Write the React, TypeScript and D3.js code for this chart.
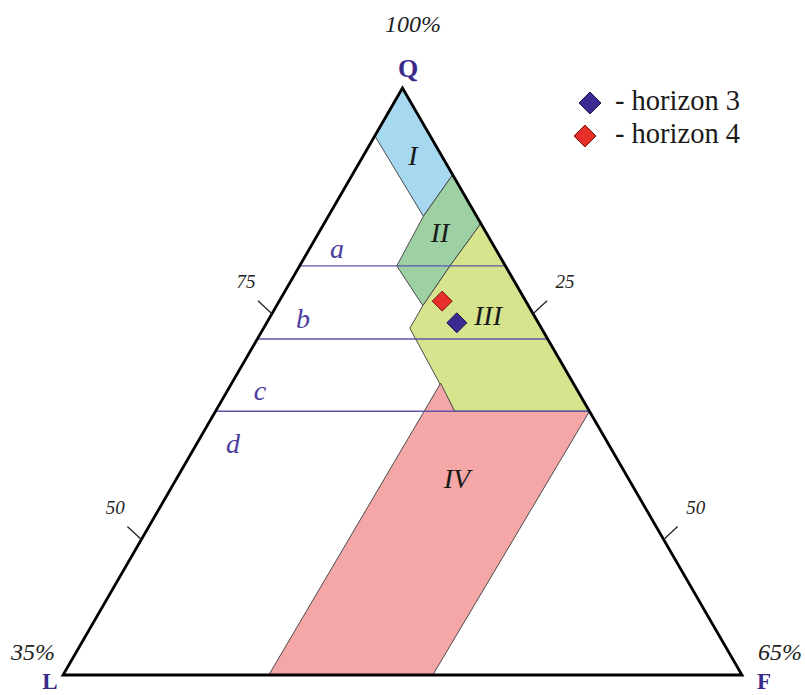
import * as d3 from 'd3';

// classification fields, vertices as [F, L] in %, Q = 100 - F - L
const fieldI = [[0, 0], [0, 5.3], [9.1, 5.1], [9.6, 0]];
const fieldII = [[9.6, 0], [9.1, 5.1], [9.3, 10.4], [14.0, 10.1], [14.4, 5.3], [15.0, 0]];
const fieldIII = [[15.0, 0], [14.4, 5.3], [14.0, 10.1], [14.0, 12.6], [22.9, 12.9], [35.8, 0]];
const fieldIV = [[20.0, 12.7], [22.9, 12.9], [35.8, 0], [35.4, 29.6], [19.7, 45.3]];
const fieldNames = ['I', 'II', 'III', 'IV'];

// Q boundaries between subgroups a | b | c | d
const qLevels = [80.3, 72.2, 64.2];
const levelNames = ['a', 'b', 'c', 'd'];

// samples [F, L]
const horizon3 = [[18.2, 7.8]];
const horizon4 = [[15.6, 8.0]];
const seriesNames = ['- horizon 3', '- horizon 4'];

const qTicks = [75, 50];

const W = 805;
const H = 695;
const serif = "'Liberation Serif', Tinos, 'Times New Roman', 'DejaVu Serif', serif";

const fieldColors = ['#a6d8f0', '#9dd1a4', '#d5e48d', '#f5a7a7'];
const fieldLabelPos = [[413, 165], [440, 242], [488, 325], [457, 488]];
const levelLabelPos = [[337, 258], [303, 328], [260, 400], [233, 453]];
const markerColors = ['#3b2a8f', '#e8302a'];
const markerStroke = ['#1e1450', '#7a1414'];

const x = d3.scaleLinear().domain([-65, 65]).range([63, 742]);
const y = d3.scaleLinear().domain([35, 100]).range([675, 88]);
const pt = ([f, l]: number[]): [number, number] => [x(f - l), y(100 - f - l)];

const polyPath = (verts: number[][]) =>
  d3.line()(verts.map(pt)) + 'Z';

const diamond = (cx: number, cy: number, r: number) =>
  `M${cx},${cy - r}L${cx + r},${cy}L${cx},${cy + r}L${cx - r},${cy}Z`;

export default function App() {
  const fields = [fieldI, fieldII, fieldIII, fieldIV];
  const [qx, qy] = pt([0, 0]);
  const [lx, ly] = pt([0, 65]);
  const [fx, fy] = pt([65, 0]);

  return (
    <svg
      width={W}
      height={H}
      style={{ position: 'absolute', left: 0, top: 0, background: '#fff', fontFamily: serif }}
    >
      {fields.map((f, i) => (
        <path key={i} d={polyPath(f)} fill={fieldColors[i]} stroke="#4a4a4a" strokeWidth={1} />
      ))}

      {qLevels.map((q, i) => {
        const [x1, y1] = pt([0, 100 - q]);
        const [x2, y2] = pt([100 - q, 0]);
        return <line key={i} x1={x1} y1={y1} x2={x2} y2={y2} stroke="#5f55a8" strokeWidth={1.4} />;
      })}

      <path
        d={`M${qx},${qy}L${lx},${ly}L${fx},${fy}Z`}
        fill="none"
        stroke="#000"
        strokeWidth={2.8}
        strokeLinejoin="miter"
      />

      {qTicks.map((q) => {
        const [ax, ay] = pt([0, 100 - q]);
        const [bx, by] = pt([100 - q, 0]);
        return (
          <g key={q} fill="#222" fontStyle="italic" fontSize={19}>
            <line x1={ax} y1={ay} x2={ax - 14} y2={ay - 13} stroke="#222" strokeWidth={1.3} />
            <text x={ax - 26} y={ay - 26} textAnchor="middle">{q}</text>
            <line x1={bx} y1={by} x2={bx + 14} y2={by - 13} stroke="#222" strokeWidth={1.3} />
            <text x={bx + 32} y={by - 26} textAnchor="middle">{100 - q}</text>
          </g>
        );
      })}

      {fieldNames.map((n, i) => (
        <text
          key={n}
          x={fieldLabelPos[i][0]}
          y={fieldLabelPos[i][1]}
          textAnchor="middle"
          fontStyle="italic"
          fontSize={28}
          fill="#1a1a1a"
        >
          {n}
        </text>
      ))}

      {levelNames.map((n, i) => (
        <text
          key={n}
          x={levelLabelPos[i][0]}
          y={levelLabelPos[i][1]}
          textAnchor="middle"
          fontStyle="italic"
          fontSize={28}
          fill="#4b3c9e"
        >
          {n}
        </text>
      ))}

      {[horizon3, horizon4].map((s, si) =>
        s.map((d, j) => {
          const [cx, cy] = pt(d);
          return (
            <path
              key={`${si}-${j}`}
              d={diamond(cx, cy, 10)}
              fill={markerColors[si]}
              stroke={markerStroke[si]}
              strokeWidth={1}
            />
          );
        })
      )}

      {/* corner labels */}
      <text x={413} y={32} textAnchor="middle" fontStyle="italic" fontSize={24} fill="#222">100%</text>
      <text x={408} y={77} textAnchor="middle" fontWeight="bold" fontSize={26} fill="#3a2a8a">Q</text>
      <text x={33} y={660} textAnchor="middle" fontStyle="italic" fontSize={24} fill="#222">35%</text>
      <text x={50} y={689} textAnchor="middle" fontWeight="bold" fontSize={23} fill="#3a2a8a">L</text>
      <text x={758} y={660} fontStyle="italic" fontSize={24} fill="#222">65%</text>
      <text x={764} y={689} textAnchor="middle" fontWeight="bold" fontSize={23} fill="#3a2a8a">F</text>

      {/* legend */}
      {seriesNames.map((n, i) => (
        <g key={n}>
          <path
            d={diamond(i === 0 ? 590 : 585, i === 0 ? 103 : 136, 11)}
            fill={markerColors[i]}
            stroke={markerStroke[i]}
            strokeWidth={1}
          />
          <text x={615} y={i === 0 ? 110 : 143} fontSize={28.5} fill="#1a1a1a">{n}</text>
        </g>
      ))}
    </svg>
  );
}
